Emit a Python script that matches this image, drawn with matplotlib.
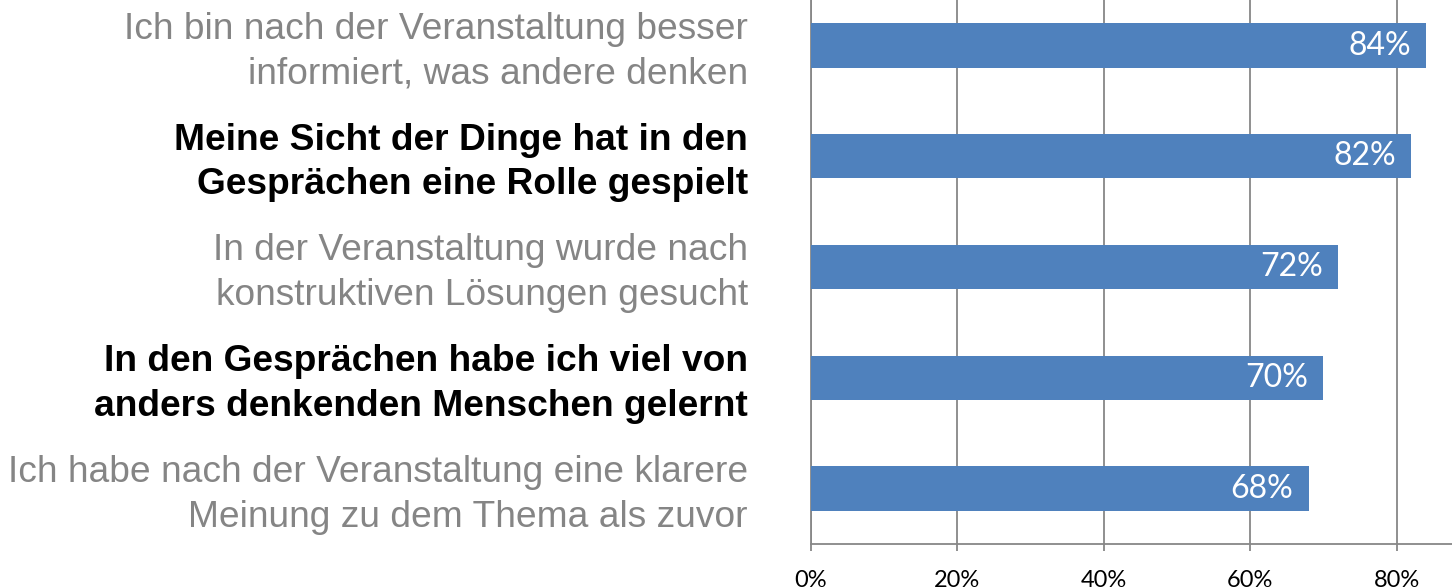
import matplotlib
matplotlib.use('Agg')
import matplotlib.pyplot as plt

# survey statements, bottom to top as drawn
statements = [
    'Ich habe nach der Veranstaltung eine klarere\nMeinung zu dem Thema als zuvor',
    'In den Gesprächen habe ich viel von\nanders denkenden Menschen gelernt',
    'In der Veranstaltung wurde nach\nkonstruktiven Lösungen gesucht',
    'Meine Sicht der Dinge hat in den\nGesprächen eine Rolle gespielt',
    'Ich bin nach der Veranstaltung besser\ninformiert, was andere denken',
]
shares = [0.68, 0.70, 0.72, 0.82, 0.84]
highlighted = [False, True, False, True, False]
x_ticks = [0.0, 0.2, 0.4, 0.6, 0.8, 1.0]
x_ticklabels = ['0%', '20%', '40%', '60%', '80%', '100%']

bar_color = '#4F81BD'
grid_color = '#878787'

fig = plt.figure(figsize=(14.52, 5.88), dpi=100)
ax = fig.add_axes([0.5585, 0.0748, 0.5042, 0.942])

ypos = range(len(shares))
bars = ax.barh(ypos, shares, height=0.4, color=bar_color, zorder=3)

ax.set_xlim(0, 1.0)
ax.set_ylim(-0.5, len(shares) - 0.5)

# percentage labels inside the bar ends
for y, v in zip(ypos, shares):
    ax.annotate('{:.0f}%'.format(v * 100), xy=(v, y), xytext=(-11, 0),
                textcoords='offset points', ha='right', va='center',
                color='white', fontsize=23, family='Lato', zorder=4)

# statement labels on the left
for y, txt, hl in zip(ypos, statements, highlighted):
    ax.text(-0.086, y - 0.055, txt, ha='right', va='center',
            fontsize=26.7, family='Liberation Sans', linespacing=1.36,
            color='black' if hl else '#858585',
            fontweight='bold' if hl else 'normal')

ax.set_yticks([])
ax.set_xticks(x_ticks)
ax.set_xticklabels(x_ticklabels, fontsize=17, family='Lato', color='black')
ax.tick_params(axis='x', length=5, width=1.3, color=grid_color, pad=14)

ax.grid(axis='x', color=grid_color, linewidth=1.3, zorder=0)
for s in ['top', 'right']:
    ax.spines[s].set_visible(False)
for s in ['left', 'bottom']:
    ax.spines[s].set_color(grid_color)
    ax.spines[s].set_linewidth(1.3)

fig.savefig('out.png', dpi=100)
